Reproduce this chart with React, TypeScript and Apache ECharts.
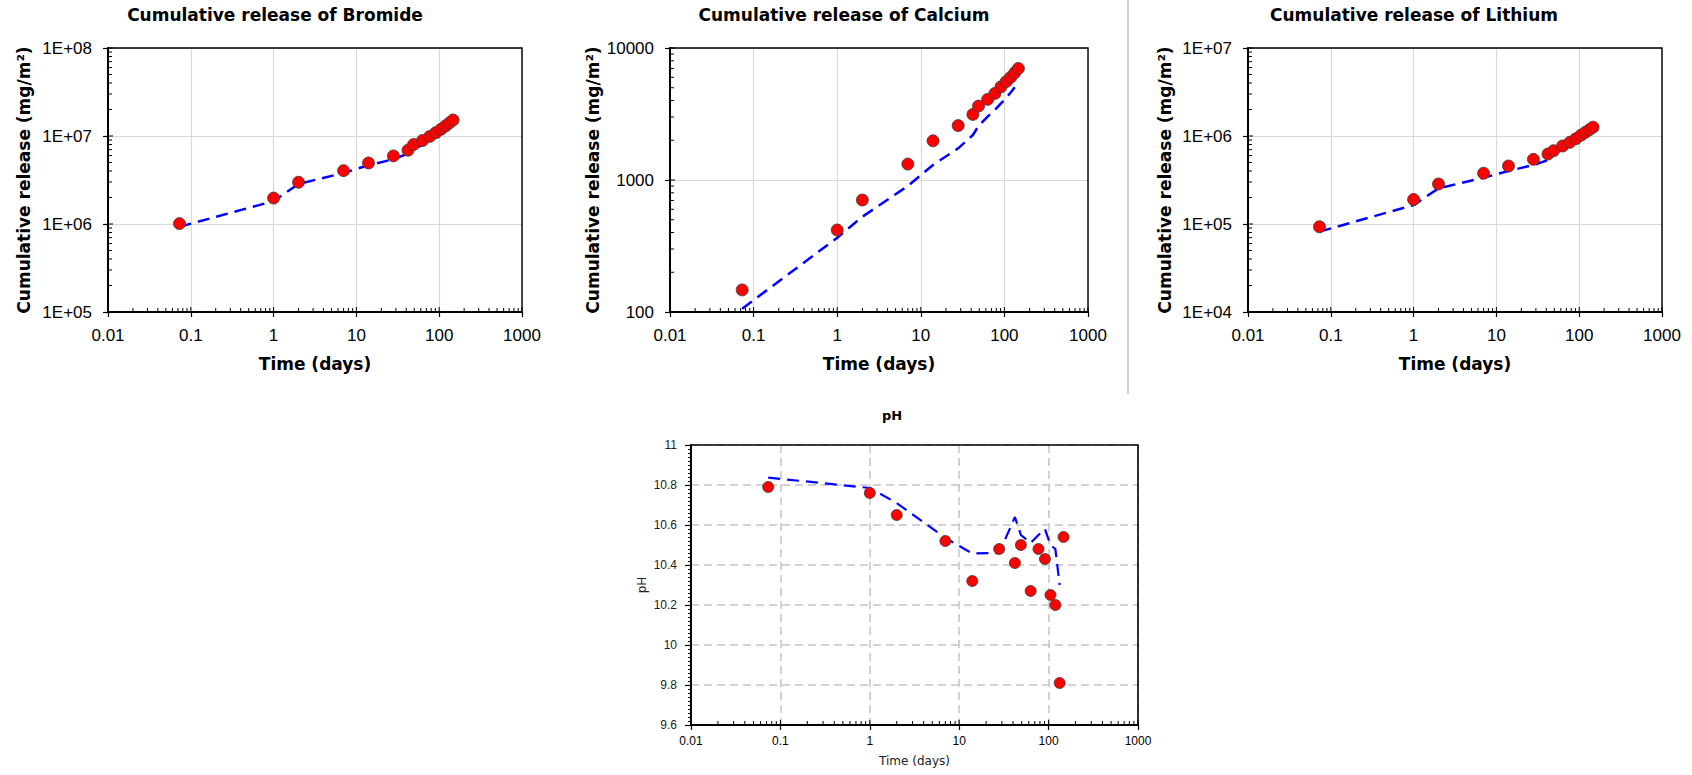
import React, { useEffect, useRef } from "react";
import * as echarts from "echarts";

// ---------- data ----------
const times = [0.073, 1, 2, 7, 14, 28, 42, 49, 63, 77, 91, 105, 119, 133, 147];
const modelTimes = [0.073, 1, 2, 7, 14, 28, 42, 49, 63, 77, 91, 105, 119, 133];

const bromideMeasured = [1.01e6, 1.97e6, 2.98e6, 4.04e6, 4.94e6, 5.94e6, 6.9e6, 8.0e6, 8.9e6, 9.9e6, 1.09e7, 1.19e7, 1.3e7, 1.41e7, 1.52e7];
const bromideModel = [9.3e5, 1.82e6, 2.85e6, 3.8e6, 4.66e6, 5.44e6, 6.3e6, 7.2e6, 7.9e6, 8.9e6, 9.9e6, 1.1e7, 1.22e7, 1.35e7];

const calciumMeasured = [147, 418, 705, 1320, 1980, 2583, 3140, 3630, 4080, 4530, 5080, 5560, 6000, 6500, 7000];
const calciumModel = [106, 365, 527, 901, 1300, 1738, 2193, 2564, 3020, 3390, 3800, 4200, 4600, 5050];

const lithiumMeasured = [9.3e4, 1.9e5, 2.85e5, 3.77e5, 4.56e5, 5.43e5, 6.24e5, 6.81e5, 7.7e5, 8.47e5, 9.3e5, 1.02e6, 1.1e6, 1.18e6, 1.26e6];
const lithiumModel = [8.2e4, 1.64e5, 2.54e5, 3.36e5, 4.0e5, 4.68e5, 5.33e5, 6.2e5, 7.1e5, 7.9e5, 8.7e5, 9.5e5, 1.03e6, 1.12e6];

const phMeasured = [10.79, 10.76, 10.65, 10.52, 10.32, 10.48, 10.41, 10.5, 10.27, 10.48, 10.43, 10.25, 10.2, 9.81, 10.54];
const phModel = [10.837, 10.785, 10.71, 10.535, 10.458, 10.46, 10.64, 10.55, 10.51, 10.55, 10.58, 10.5, 10.48, 10.3];

const xTickLabels = ["0.01", "0.1", "1", "10", "100", "1000"];
const bromideYLabels = ["1E+05", "1E+06", "1E+07", "1E+08"];
const calciumYLabels = ["100", "1000", "10000"];
const lithiumYLabels = ["1E+04", "1E+05", "1E+06", "1E+07"];
const phYLabels = ["9.6", "9.8", "10", "10.2", "10.4", "10.6", "10.8", "11"];

const minorMultipliers = [2, 3, 4, 5, 6, 7, 8, 9];

// ---------- layout ----------
const W = 1692;
const H = 775;
const TICK_FONT = "Liberation Sans";
const TITLE_FONT = "DejaVu Sans";

type Panel = {
  title: string;
  titleX: number;
  titleY: number;
  titleSize: number;
  left: number;
  top: number;
  width: number;
  height: number;
  yLog: boolean;
  yMin: number;
  yMax: number;
  yLabels: string[];
  yName: string;
  yNameGap: number;
  measured: number[];
  model: number[];
  small: boolean;
};

const panels: Panel[] = [
  {
    title: "Cumulative release of Bromide", titleX: 275, titleY: 16, titleSize: 17,
    left: 108, top: 48, width: 414, height: 264,
    yLog: true, yMin: 1e5, yMax: 1e8, yLabels: bromideYLabels,
    yName: "Cumulative release (mg/m²)", yNameGap: 76,
    measured: bromideMeasured, model: bromideModel, small: false,
  },
  {
    title: "Cumulative release of Calcium", titleX: 844, titleY: 16, titleSize: 17,
    left: 670, top: 48, width: 418, height: 264,
    yLog: true, yMin: 100, yMax: 10000, yLabels: calciumYLabels,
    yName: "Cumulative release (mg/m²)", yNameGap: 69,
    measured: calciumMeasured, model: calciumModel, small: false,
  },
  {
    title: "Cumulative release of Lithium", titleX: 1414, titleY: 16, titleSize: 17,
    left: 1248, top: 48, width: 414, height: 264,
    yLog: true, yMin: 1e4, yMax: 1e7, yLabels: lithiumYLabels,
    yName: "Cumulative release (mg/m²)", yNameGap: 75,
    measured: lithiumMeasured, model: lithiumModel, small: false,
  },
  {
    title: "pH", titleX: 892, titleY: 417, titleSize: 13,
    left: 691, top: 445, width: 447, height: 280,
    yLog: false, yMin: 9.6, yMax: 11, yLabels: phYLabels,
    yName: "pH", yNameGap: 43,
    measured: phMeasured, model: phModel, small: true,
  },
];

function logTicks(minExp: number, maxExp: number, majorLen: number, minorLen: number) {
  const out: { v: number; len: number }[] = [];
  for (let e = minExp; e <= maxExp; e++) {
    out.push({ v: Math.pow(10, e), len: majorLen });
    if (e < maxExp) {
      for (const m of minorMultipliers) out.push({ v: m * Math.pow(10, e), len: minorLen });
    }
  }
  return out;
}

function buildOption() {
  const grid: any[] = [];
  const xAxis: any[] = [];
  const yAxis: any[] = [];
  const series: any[] = [];
  const title: any[] = [];
  const graphic: any[] = [
    {
      type: "line",
      shape: { x1: 1128, y1: 0, x2: 1128, y2: 394 },
      style: { stroke: "#d0d0d0", lineWidth: 2 },
      silent: true,
    },
  ];

  panels.forEach((p, i) => {
    const tickSize = p.small ? 12 : 17;
    const nameSize = p.small ? 12 : 17;
    grid.push({
      left: p.left, top: p.top, width: p.width, height: p.height,
      show: false, containLabel: false,
    });
    // plot frame drawn on top of the dashed / grey grid lines
    graphic.push({
      type: "rect", silent: true, z: 100,
      shape: { x: p.left, y: p.top, width: p.width, height: p.height },
      style: { fill: "none", stroke: "#000", lineWidth: p.small ? 1.6 : 1.4 },
    });
    title.push({
      text: p.title, left: p.titleX, top: p.titleY - (p.small ? 8 : 10), textAlign: "center", padding: 0,
      textStyle: { fontFamily: TITLE_FONT, fontWeight: "bold", fontSize: p.titleSize, color: "#000" },
    });
    const splitLine = p.small
      ? { show: true, lineStyle: { color: "#c4c4c4", width: 1.5, type: [8, 5] } }
      : { show: true, lineStyle: { color: "#d9d9d9", width: 1.2 } };

    xAxis.push({
      type: "log", logBase: 10, min: 0.01, max: 1000, gridIndex: i,
      axisLine: { show: true, onZero: false, lineStyle: { color: "#000", width: 2 } },
      axisTick: { show: true, inside: false, length: 5, lineStyle: { color: "#000", width: 1.2 } },
      axisLabel: {
        show: true, margin: p.small ? 10 : 15, fontSize: tickSize, fontFamily: TICK_FONT, color: "#000",
        formatter: (v: number) => xTickLabels[Math.round(Math.log10(v)) + 2] ?? "",
      },
      splitLine,
      name: "Time (days)", nameLocation: "middle", nameGap: p.small ? 30 : 43,
      nameTextStyle: {
        fontFamily: TITLE_FONT, fontWeight: p.small ? "normal" : "bold", fontSize: nameSize, color: p.small ? "#222" : "#000",
      },
    });

    if (p.yLog) {
      const minExp = Math.round(Math.log10(p.yMin));
      yAxis.push({
        type: "log", logBase: 10, min: p.yMin, max: p.yMax, gridIndex: i,
        axisLine: { show: true, onZero: false, lineStyle: { color: "#000", width: 2 } },
        axisTick: { show: true, inside: false, length: 5, lineStyle: { color: "#000", width: 1.2 } },
        axisLabel: {
          show: true, margin: 16, fontSize: tickSize, fontFamily: TICK_FONT, color: "#000",
          formatter: (v: number) => p.yLabels[Math.round(Math.log10(v)) - minExp] ?? "",
        },
        splitLine,
        name: p.yName, nameLocation: "middle", nameGap: p.yNameGap,
        nameTextStyle: { fontFamily: TITLE_FONT, fontWeight: "bold", fontSize: nameSize, color: "#000" },
      });
    } else {
      yAxis.push({
        type: "value", min: p.yMin, max: p.yMax, interval: 0.2, gridIndex: i,
        axisLine: { show: true, onZero: false, lineStyle: { color: "#000", width: 2 } },
        axisTick: { show: true, inside: false, length: 6, lineStyle: { color: "#000", width: 1.2 } },
        minorTick: { show: true, splitNumber: 10, length: 3, lineStyle: { color: "#000", width: 1 } },
        axisLabel: {
          show: true, margin: 14, fontSize: tickSize, fontFamily: TICK_FONT, color: "#222",
          formatter: (v: number) => p.yLabels[Math.round((v - p.yMin) / 0.2)] ?? "",
        },
        splitLine,
        name: p.yName, nameLocation: "middle", nameGap: p.yNameGap,
        nameTextStyle: { fontFamily: TITLE_FONT, fontWeight: "normal", fontSize: nameSize, color: "#222" },
      });
    }

    // x-axis inner ticks (log-spaced minor ticks)
    const xt = logTicks(-2, 3, 5, 4);
    series.push({
      type: "custom", xAxisIndex: i, yAxisIndex: i, silent: true, clip: false, z: 5,
      data: xt.map((t) => [t.v, p.yMin, t.len]),
      renderItem: (_params: any, api: any) => {
        const pt = api.coord([api.value(0), api.value(1)]);
        const len = api.value(2);
        return {
          type: "line",
          shape: { x1: pt[0], y1: pt[1], x2: pt[0], y2: pt[1] - len },
          style: { stroke: "#000", lineWidth: 1 },
        };
      },
    });
    if (p.yLog) {
      const yt = logTicks(Math.round(Math.log10(p.yMin)), Math.round(Math.log10(p.yMax)), 5, 4);
      series.push({
        type: "custom", xAxisIndex: i, yAxisIndex: i, silent: true, clip: false, z: 5,
        data: yt.map((t) => [0.01, t.v, t.len]),
        renderItem: (_params: any, api: any) => {
          const pt = api.coord([api.value(0), api.value(1)]);
          const len = api.value(2);
          return {
            type: "line",
            shape: { x1: pt[0], y1: pt[1], x2: pt[0] + len, y2: pt[1] },
            style: { stroke: "#000", lineWidth: 1 },
          };
        },
      });
    }

    series.push({
      type: "line", xAxisIndex: i, yAxisIndex: i, silent: true, z: 3,
      symbol: "none", showSymbol: false,
      lineStyle: { color: "#0000ff", width: p.small ? 2.2 : 2.5, type: [12, 7] },
      data: modelTimes.map((t, k) => [t, p.model[k]]),
    });
    series.push({
      type: "scatter", xAxisIndex: i, yAxisIndex: i, silent: true, z: 4,
      symbol: "circle", symbolSize: p.small ? 11 : 12,
      itemStyle: { color: "#ff0000", borderColor: "#3a3a3a", borderWidth: 0.8, opacity: 1 },
      data: times.map((t, k) => [t, p.measured[k]]),
    });
  });

  return {
    animation: false,
    backgroundColor: "#ffffff",
    title,
    grid,
    xAxis,
    yAxis,
    series,
    graphic,
  };
}

export default function App() {
  const ref = useRef<HTMLDivElement>(null);
  useEffect(() => {
    document.body.style.margin = "0";
    if (!ref.current) return;
    const chart = echarts.init(ref.current, null, { renderer: "svg", width: W, height: H });
    chart.setOption(buildOption() as any);
    return () => chart.dispose();
  }, []);
  return <div ref={ref} style={{ width: W, height: H, background: "#fff" }} />;
}
